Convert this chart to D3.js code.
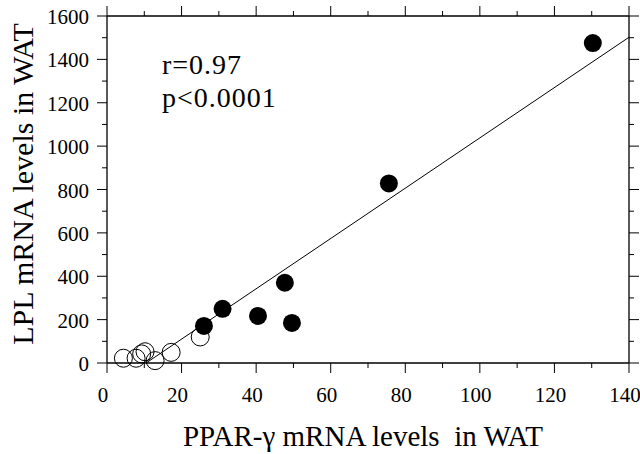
<!DOCTYPE html>
<head>
  <meta charset="utf-8">
  <title>LPL vs PPAR-gamma mRNA in WAT</title>
  <style>
    body { margin: 0; padding: 0; background: #fff; }
    text { font-family: 'Liberation Serif', 'Times New Roman', serif; fill: #000; }
    .frame line { stroke: #000; stroke-width: 1.3; }
    .tick line { stroke: #000; stroke-width: 1; }
  </style>
</head>
<body>
  <div id="vis"></div>
  <script src="https://cdn.jsdelivr.net/npm/d3@7"></script>
  <script>
    // open circles (lower group)
    var openX = [4.4, 7.8, 9.3, 10.2, 12.9, 17.2, 25];
    var openY = [22, 22, 42, 52, 11, 49, 120];
    // filled circles
    var filledX = [26, 31, 40.5, 47.7, 49.6, 75.6, 130.3];
    var filledY = [171, 250, 217, 370, 185, 828, 1475];
    // regression line end points
    var fitX = [10.5, 140];
    var fitY = [0, 1502];

    var xTicks = [0, 20, 40, 60, 80, 100, 120, 140];
    var yTicks = [0, 200, 400, 600, 800, 1000, 1200, 1400, 1600];

    var width = 640, height = 454,
        plotLeft = 107, plotRight = 629, plotTop = 16, plotBottom = 363,
        radius = 9;

    var svg = d3.select("#vis").append("svg")
      .attr("width", width)
      .attr("height", height);

    var x = d3.scaleLinear().domain([0, 140]).range([plotLeft, plotRight]);
    var y = d3.scaleLinear().domain([0, 1600]).range([plotBottom, plotTop]);

    var minorX = d3.range(0, 141, 10),
        minorY = d3.range(0, 1601, 100);

    function tickLen(v, step) { return v % step === 0 ? 10 : 5; }

    // ticks on all four sides, pointing out
    var ax = svg.append("g").attr("class", "tick");
    ax.selectAll("line.b").data(minorX).enter().append("line")
      .attr("x1", function(d) { return x(d); })
      .attr("x2", function(d) { return x(d); })
      .attr("y1", plotBottom)
      .attr("y2", function(d) { return plotBottom + tickLen(d, 20); });
    ax.selectAll("line.t").data(minorX).enter().append("line")
      .attr("x1", function(d) { return x(d); })
      .attr("x2", function(d) { return x(d); })
      .attr("y1", plotTop)
      .attr("y2", function(d) { return plotTop - tickLen(d, 20); });
    ax.selectAll("line.l").data(minorY).enter().append("line")
      .attr("y1", function(d) { return y(d); })
      .attr("y2", function(d) { return y(d); })
      .attr("x1", plotLeft)
      .attr("x2", function(d) { return plotLeft - tickLen(d, 200); });
    ax.selectAll("line.r").data(minorY).enter().append("line")
      .attr("y1", function(d) { return y(d); })
      .attr("y2", function(d) { return y(d); })
      .attr("x1", plotRight)
      .attr("x2", function(d) { return plotRight + tickLen(d, 200); });

    // frame
    var frame = svg.append("g").attr("class", "frame");
    frame.append("line").attr("x1", plotLeft).attr("x2", plotRight).attr("y1", plotBottom).attr("y2", plotBottom);
    frame.append("line").attr("x1", plotLeft).attr("x2", plotRight).attr("y1", plotTop).attr("y2", plotTop);
    frame.append("line").attr("x1", plotLeft).attr("x2", plotLeft).attr("y1", plotTop).attr("y2", plotBottom);
    frame.append("line").attr("x1", plotRight).attr("x2", plotRight).attr("y1", plotTop).attr("y2", plotBottom);

    // tick labels
    svg.append("g").selectAll("text").data(xTicks).enter().append("text")
      .attr("x", function(d) { return x(d) - 4; })
      .attr("y", plotBottom + 39)
      .attr("text-anchor", "middle")
      .style("font-size", "21px")
      .text(function(d) { return d; });

    svg.append("g").selectAll("text").data(yTicks).enter().append("text")
      .attr("x", plotLeft - 18)
      .attr("y", function(d) { return y(d) + 8; })
      .attr("text-anchor", "end")
      .style("font-size", "21px")
      .text(function(d) { return d; });

    // axis titles
    svg.append("text")
      .attr("x", 363)
      .attr("y", 446)
      .attr("text-anchor", "middle")
      .style("font-size", "29px")
      .style("white-space", "pre")
      .text("PPAR-\u03b3 mRNA levels  in WAT");

    svg.append("text")
      .attr("transform", "translate(33,184) rotate(-90)")
      .attr("text-anchor", "middle")
      .style("font-size", "30px")
      .text("LPL mRNA levels in WAT");

    // regression line
    svg.append("line")
      .attr("x1", x(fitX[0])).attr("y1", y(fitY[0]))
      .attr("x2", x(fitX[1])).attr("y2", y(fitY[1]))
      .attr("stroke", "#000")
      .attr("stroke-width", 1);

    // points
    svg.append("g").selectAll("circle").data(openX).enter().append("circle")
      .attr("cx", function(d) { return x(d); })
      .attr("cy", function(d, i) { return y(openY[i]); })
      .attr("r", radius)
      .attr("fill", "none")
      .attr("stroke", "#000")
      .attr("stroke-width", 1);

    svg.append("g").selectAll("circle").data(filledX).enter().append("circle")
      .attr("cx", function(d) { return x(d); })
      .attr("cy", function(d, i) { return y(filledY[i]); })
      .attr("r", radius)
      .attr("fill", "#000");

    // statistics
    svg.append("text").attr("x", 162).attr("y", 74)
      .style("font-size", "28px").style("letter-spacing", "1px").text("r=0.97");
    svg.append("text").attr("x", 162).attr("y", 107)
      .style("font-size", "28px").style("letter-spacing", "1px").text("p<0.0001");
  </script>
</body>
